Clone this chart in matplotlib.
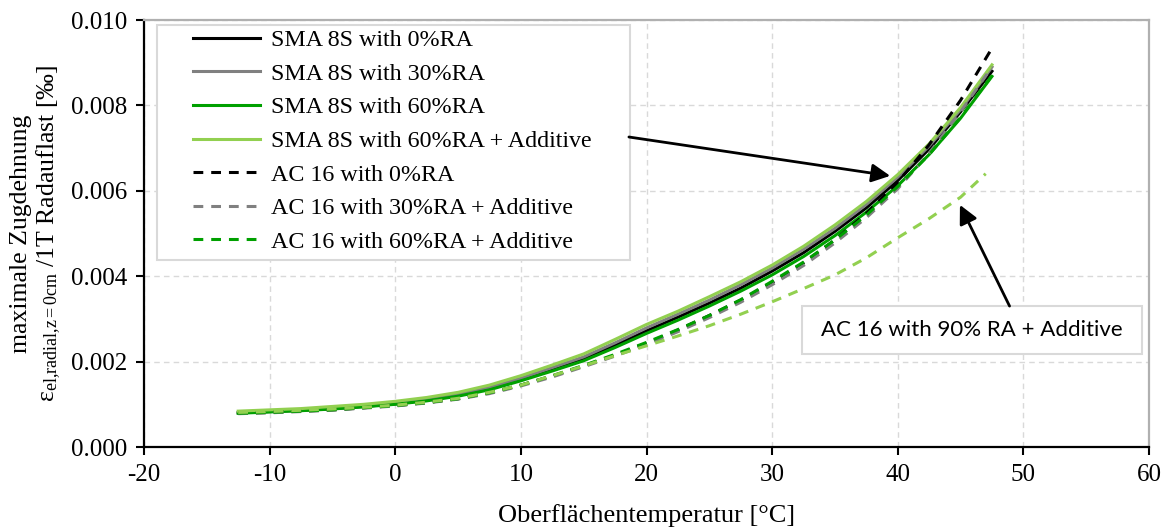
import matplotlib
matplotlib.use("Agg")
import matplotlib.pyplot as plt
from matplotlib.patches import Rectangle
from matplotlib.ticker import FormatStrFormatter, MultipleLocator

plt.rcParams['font.family'] = ['Liberation Serif', 'DejaVu Serif']
plt.rcParams['mathtext.fontset'] = 'custom'
plt.rcParams['mathtext.rm'] = 'Liberation Serif'
plt.rcParams['mathtext.it'] = 'Liberation Serif:italic'
plt.rcParams['axes.unicode_minus'] = False

# ---- data ----
temp = [-12.5, -10, -7.5, -5, -2.5, 0, 2.5, 5, 7.5, 10, 12.5, 15, 17.5, 20,
        22.5, 25, 27.5, 30, 32.5, 35, 37.5, 40, 42.5, 45, 47.5]
sma_0 = [0.00080, 0.00083, 0.00086, 0.00090, 0.00095, 0.00101, 0.00110, 0.00121, 0.00137, 0.00158,
         0.00182, 0.00206, 0.00238, 0.00272, 0.00304, 0.00337, 0.00372, 0.00412, 0.00455, 0.00505,
         0.00560, 0.00624, 0.00698, 0.00785, 0.00880]
sma_30 = [0.00081, 0.00084, 0.00087, 0.00092, 0.00097, 0.00103, 0.00112, 0.00124, 0.00140, 0.00161,
          0.00186, 0.00211, 0.00244, 0.00279, 0.00311, 0.00344, 0.00380, 0.00419, 0.00463, 0.00512,
          0.00568, 0.00632, 0.00705, 0.00790, 0.00890]
sma_60 = [0.00079, 0.00082, 0.00085, 0.00089, 0.00094, 0.00100, 0.00108, 0.00119, 0.00134, 0.00155,
          0.00178, 0.00202, 0.00233, 0.00266, 0.00297, 0.00330, 0.00365, 0.00403, 0.00446, 0.00495,
          0.00550, 0.00612, 0.00685, 0.00770, 0.00868]
sma_60_add = [0.00084, 0.00087, 0.00090, 0.00095, 0.00100, 0.00107, 0.00116, 0.00128, 0.00145, 0.00167,
              0.00192, 0.00218, 0.00252, 0.00287, 0.00318, 0.00352, 0.00387, 0.00426, 0.00470, 0.00520,
              0.00575, 0.00638, 0.00710, 0.00795, 0.00895]
ac_0 = [0.00079, 0.00081, 0.00084, 0.00087, 0.00092, 0.00097, 0.00104, 0.00113, 0.00127, 0.00145,
        0.00166, 0.00190, 0.00215, 0.00243, 0.00274, 0.00308, 0.00344, 0.00385, 0.00431, 0.00485,
        0.00547, 0.00620, 0.00708, 0.00812, 0.00934]
ac_30_add = [0.00078, 0.00080, 0.00083, 0.00086, 0.00091, 0.00096, 0.00103, 0.00112, 0.00125, 0.00143,
             0.00164, 0.00188, 0.00213, 0.00240, 0.00270, 0.00303, 0.00339, 0.00380, 0.00425, 0.00478,
             0.00537, 0.00605, 0.00688, 0.00785, 0.00890]
ac_60_add = [0.00079, 0.00081, 0.00084, 0.00087, 0.00092, 0.00097, 0.00104, 0.00113, 0.00127, 0.00145,
             0.00167, 0.00191, 0.00217, 0.00245, 0.00275, 0.00308, 0.00345, 0.00388, 0.00433, 0.00485,
             0.00543, 0.00610, 0.00685, 0.00772, 0.00870]
temp_90 = [-12.5, -10, -7.5, -5, -2.5, 0, 2.5, 5, 7.5, 10, 12.5, 15, 17.5, 20,
           22.5, 25, 27.5, 30, 32.5, 35, 37.5, 40, 42.5, 45, 47]
ac_90_add = [0.00081, 0.00083, 0.00086, 0.00089, 0.00093, 0.00098, 0.00105, 0.00114, 0.00128, 0.00145,
             0.00167, 0.00190, 0.00214, 0.00237, 0.00260, 0.00284, 0.00311, 0.00340, 0.00371, 0.00403,
             0.00443, 0.00490, 0.00535, 0.00585, 0.00640]

labels = ["SMA 8S with 0%RA", "SMA 8S with 30%RA", "SMA 8S with 60%RA",
          "SMA 8S with 60%RA + Additive", "AC 16 with 0%RA",
          "AC 16 with 30%RA + Additive", "AC 16 with 60%RA + Additive"]
note_90 = "AC 16 with 90% RA + Additive"

BLACK = '#000000'
GRAY = '#808080'
DGREEN = '#00a000'
LGREEN = '#92d050'

fig = plt.figure(figsize=(11.68, 5.31), dpi=100)
ax = fig.add_axes([144/1168, 1-447/531, 1005/1168, 427/531])

lw = 2.2
dash = (0, (3.2, 2.6))
h = []
h += ax.plot(temp, sma_0, color=BLACK, lw=lw, label=labels[0])
h += ax.plot(temp, sma_30, color=GRAY, lw=lw, label=labels[1])
h += ax.plot(temp, sma_60, color=DGREEN, lw=lw, label=labels[2])
h += ax.plot(temp, sma_60_add, color=LGREEN, lw=lw, label=labels[3])
h += ax.plot(temp, ac_0, color=BLACK, lw=lw, ls=dash, label=labels[4])
h += ax.plot(temp, ac_30_add, color=GRAY, lw=lw, ls=dash, label=labels[5])
h += ax.plot(temp, ac_60_add, color=DGREEN, lw=lw, ls=dash, label=labels[6])
ax.plot(temp_90, ac_90_add, color=LGREEN, lw=lw, ls=dash)

ax.set_xlim(-20, 60)
ax.set_ylim(0, 0.010)
ax.xaxis.set_major_locator(MultipleLocator(10))
ax.yaxis.set_major_locator(MultipleLocator(0.002))
ax.yaxis.set_major_formatter(FormatStrFormatter('%.3f'))
ax.grid(True, color='#d9d9d9', ls=(0, (4, 3)), lw=1.0)
ax.set_axisbelow(True)
ax.tick_params(direction='out', length=6, width=1.5, labelsize=18, colors='black', pad=6)
for s in ['left', 'bottom']:
    ax.spines[s].set_color('black')
    ax.spines[s].set_linewidth(1.6)
for s in ['top', 'right']:
    ax.spines[s].set_color('#b0b0b0')
    ax.spines[s].set_linewidth(1.6)

ax.set_xlabel("Oberflächentemperatur [°C]", fontsize=19, labelpad=13)
ax.set_ylabel("maximale Zugdehnung\n" + r"$\mathregular{ε_{el{,}radial{,}z{=}0cm}}$" + " /1T Radauflast [‰]",
              fontsize=18.5, labelpad=6, linespacing=1.1)

# legend frame + legend
ax.add_patch(Rectangle((0.013, 0.438), 0.4706, 0.55, transform=ax.transAxes,
                       facecolor='white', edgecolor='#d9d9d9', lw=1.5, zorder=4))
leg = ax.legend(handles=h, loc='upper left', bbox_to_anchor=(0.0488, 0.978),
                frameon=False, fontsize=17.3, borderpad=0, borderaxespad=0,
                handlelength=2.8, handletextpad=0.45, labelspacing=0.49)
leg.set_zorder(5)

# note box for the 90% curve
ax.add_patch(Rectangle((32.38, 0.002178), 27.06, 0.001124, facecolor='white',
                       edgecolor='#d9d9d9', lw=1.5, zorder=4))
ax.text(45.9, 0.00274, note_90, ha='center', va='center', fontsize=16,
        family=['Lato', 'DejaVu Sans'], zorder=5)

arrow = dict(arrowstyle='-|>', color='black', lw=2, mutation_scale=28, shrinkA=0, shrinkB=0)
ax.annotate('', xy=(39.4, 0.00635), xytext=(18.6, 0.00726), arrowprops=arrow, zorder=6)
ax.annotate('', xy=(44.95, 0.00567), xytext=(48.9, 0.00330), arrowprops=arrow, zorder=6)

fig.savefig('out.png', dpi=100)
